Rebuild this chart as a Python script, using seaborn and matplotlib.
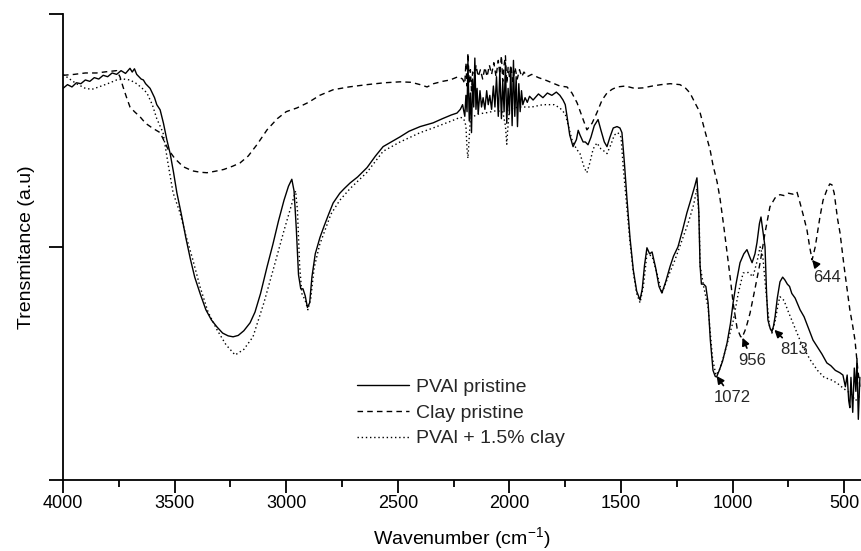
import numpy as np
import pandas as pd
import seaborn as sns
import matplotlib.pyplot as plt
from matplotlib.ticker import MultipleLocator

# values (wavenumber in cm-1, transmittance in a.u.)
pval_wn = [4000, 3980, 3960, 3940, 3920, 3900, 3880, 3860, 3840, 3820, 3800, 3780, 3760, 3740, 3720,
           3700, 3690, 3680, 3670, 3660, 3650, 3640, 3630, 3620, 3610, 3600, 3590, 3580, 3565, 3550,
           3535, 3520, 3505, 3490, 3470, 3450, 3430, 3410, 3386, 3360, 3335, 3310, 3285, 3260, 3238,
           3215, 3190, 3162, 3140, 3115, 3086, 3060, 3035, 3010, 2990, 2975, 2965, 2955, 2945, 2935,
           2925, 2915, 2905, 2895, 2885, 2870, 2849, 2830, 2810, 2790, 2760, 2740, 2714, 2680, 2638,
           2600, 2566, 2530, 2490, 2450, 2400, 2342, 2300, 2260, 2235, 2220,
           2210, 2200, 2195, 2190, 2186, 2180, 2175, 2170, 2165, 2160, 2155, 2150, 2145, 2140, 2132,
           2125, 2118, 2110, 2102, 2095, 2088, 2080, 2072, 2065, 2058, 2050, 2043, 2036, 2030, 2024,
           2018, 2012, 2006, 2000, 1994, 1988, 1982, 1976, 1970, 1964, 1958, 1952, 1946, 1940, 1930,
           1920, 1910, 1894, 1870, 1850, 1830, 1810, 1790, 1774, 1760, 1750, 1742, 1730, 1715, 1700,
           1692, 1684, 1670, 1660, 1648, 1635, 1620, 1603, 1590, 1575, 1563, 1550, 1535, 1518, 1505,
           1496, 1485, 1473, 1460, 1445, 1430, 1415, 1405, 1395, 1384, 1372, 1361, 1345, 1330, 1317,
           1300, 1281, 1265, 1245, 1225, 1205, 1185, 1170, 1160, 1152, 1146, 1140, 1130, 1120, 1110,
           1100, 1088, 1078, 1072, 1060, 1045, 1025, 1010, 998, 985, 967, 950, 936, 925, 913,
           900, 891, 880, 873, 865, 855, 848, 842, 832, 824, 817, 810, 800, 788, 776,
           766, 755, 745, 735, 720, 698, 680, 660, 640, 620, 600, 578, 560, 540, 520,
           506, 495, 487, 480, 475, 470, 462, 455, 448, 443, 437, 430]
pval_t = [84.0, 84.8, 84.3, 85.2, 85.0, 85.8, 85.5, 86.3, 86.0, 86.8, 86.5, 87.3, 87.0, 87.8, 87.2,
          88.3, 87.5, 88.2, 87.0, 86.5, 86.0, 85.8, 85.0, 84.5, 84.0, 83.0, 82.0, 80.5, 79.4, 76.5,
          73.0, 70.0, 66.0, 61.6, 57.0, 52.0, 47.5, 43.5, 40.0, 36.5, 34.3, 32.8, 31.5, 30.9, 30.7,
          31.0, 32.0, 33.7, 36.0, 40.0, 45.7, 50.5, 55.5, 60.0, 63.0, 64.5, 62.0, 54.0, 44.0, 41.0,
          41.0, 39.5, 37.0, 38.0, 43.5, 48.5, 52.0, 54.5, 57.0, 59.4, 61.5, 62.5, 63.7, 65.0, 67.0,
          69.5, 71.5, 72.5, 73.6, 74.8, 75.8, 76.6, 77.5, 78.3, 78.7, 79.5,
          80.5, 78.0, 82.5, 79.0, 90.0, 77.0, 83.0, 74.5, 86.0, 80.0, 90.5, 79.5, 84.0, 78.5, 83.5,
          80.0, 82.0, 79.5, 83.5, 80.5, 82.5, 79.5, 84.5, 80.0, 86.5, 78.0, 88.0, 77.5, 85.5, 79.0,
          89.5, 76.5, 84.0, 78.5, 88.5, 76.0, 90.0, 78.0, 86.5, 75.8, 85.0, 79.0, 83.5, 80.5, 82.0,
          81.0, 82.3, 81.5, 82.8, 82.0, 83.0, 82.5, 83.2, 82.5, 81.5, 80.5, 78.0, 74.0, 71.5, 73.0,
          75.0, 74.0, 72.5, 72.5, 71.9, 73.5, 76.0, 77.3, 75.0, 72.5, 71.5, 73.5, 75.5, 75.8, 75.5,
          74.5, 68.0, 60.0, 52.0, 45.0, 40.5, 38.6, 41.0, 46.0, 49.8, 48.5, 48.9, 45.5, 41.5, 40.1,
          42.5, 45.7, 48.0, 50.0, 53.5, 57.3, 60.5, 63.0, 64.8, 58.0, 46.0, 42.0, 42.0, 41.5, 38.0,
          30.0, 23.5, 22.2, 22.1, 23.5, 25.5, 29.4, 33.5, 38.0, 42.0, 46.6, 48.5, 49.4, 48.0, 46.6,
          48.5, 50.9, 55.0, 56.4, 53.5, 50.0, 40.0, 34.3, 32.5, 31.8, 33.0, 35.0, 39.0, 42.5, 43.5,
          42.9, 42.0, 41.5, 40.0, 39.0, 36.5, 35.0, 32.5, 30.0, 28.5, 27.0, 25.1, 24.5, 23.5, 23.0,
          22.5, 20.0, 22.5, 17.0, 15.5, 22.0, 14.5, 24.0, 19.0, 26.0, 13.0, 22.0]

clay_wn = [4000, 3950, 3900, 3850, 3800, 3760, 3745, 3731, 3715, 3700, 3680, 3655, 3630, 3600, 3565,
           3530, 3500, 3462, 3420, 3385, 3355, 3320, 3280, 3240, 3207, 3170, 3130, 3086, 3040, 3000,
           2952, 2900, 2850, 2790, 2720, 2638, 2560, 2490, 2440, 2400, 2369, 2340, 2300, 2266, 2230,
           2210, 2200, 2195, 2190, 2186, 2180, 2175, 2170, 2165, 2155, 2150, 2140, 2130, 2120, 2110,
           2100, 2090, 2080, 2070, 2060, 2050, 2043, 2036, 2030, 2024, 2018, 2012, 2006, 2000, 1994,
           1985, 1975, 1965, 1955, 1945, 1935, 1920, 1900, 1870, 1840, 1800, 1774, 1742, 1720, 1697,
           1675, 1653, 1630, 1608, 1585, 1563, 1540, 1518, 1480, 1440, 1402, 1360, 1320, 1280, 1236,
           1210, 1191, 1170, 1146, 1125, 1101, 1088, 1070, 1057, 1040, 1025, 1010, 998, 980, 965,
           958, 945, 935, 922, 900, 877, 855, 833, 810, 788, 770, 750, 730, 712, 698,
           682, 667, 655, 644, 630, 620, 609, 595, 578, 565, 555, 545, 530, 519, 500,
           475, 462, 452, 440, 430]
clay_t = [86.8, 87.0, 87.3, 87.3, 87.6, 87.8, 86.5, 84.3, 82.0, 80.0, 79.0, 77.9, 76.5, 75.5, 74.5,
          71.0, 69.0, 67.2, 66.3, 66.0, 65.9, 66.2, 66.6, 67.3, 68.0, 69.5, 72.0, 75.1, 77.5, 79.0,
          79.8, 81.0, 82.5, 83.7, 84.3, 84.8, 85.2, 85.4, 85.3, 84.8, 84.3, 85.0, 85.5, 85.8, 86.5,
          86.0, 85.0, 89.5, 84.5, 91.6, 85.0, 88.0, 83.5, 87.5, 86.0, 89.0, 86.5, 88.0, 86.0, 88.5,
          86.5, 89.0, 87.0, 89.5, 86.5, 90.0, 87.0, 91.0, 85.5, 89.0, 91.0, 85.0, 88.5, 86.5, 89.0,
          85.5, 88.5, 86.0, 88.0, 86.5, 87.5, 86.5, 87.0, 86.3, 85.8, 85.0, 84.5, 84.3, 83.0, 80.9,
          78.0, 75.1, 76.5, 78.8, 81.5, 83.0, 83.8, 84.3, 84.5, 84.0, 84.1, 84.5, 84.8, 85.0, 84.8,
          84.0, 83.0, 81.0, 78.8, 75.0, 70.8, 67.5, 64.0, 60.5, 54.5, 48.7, 43.0, 38.0, 32.5, 30.8,
          30.5, 32.0, 33.5, 35.8, 41.0, 46.6, 53.0, 58.6, 60.5, 61.2, 61.0, 61.5, 61.3, 61.8, 59.4,
          56.5, 53.6, 50.0, 47.2, 50.0, 53.0, 56.4, 60.0, 62.2, 63.5, 63.3, 61.5, 56.0, 53.0, 45.5,
          36.5, 33.0, 30.0, 24.0, 20.0]

blend_wn = [4000, 3970, 3940, 3900, 3870, 3840, 3800, 3760, 3730, 3700, 3670, 3640, 3624, 3600, 3580,
            3552, 3530, 3507, 3476, 3450, 3420, 3386, 3350, 3310, 3270, 3229, 3190, 3149, 3100, 3059,
            3010, 2970, 2958, 2950, 2940, 2930, 2915, 2903, 2890, 2875, 2850, 2800, 2760, 2714, 2638,
            2566, 2490, 2400, 2342, 2260, 2220, 2205, 2195, 2190, 2186, 2182, 2175, 2160, 2140, 2100,
            2060, 2030, 2018, 2012, 2008, 2000, 1960, 1900, 1850, 1800, 1774, 1750, 1720, 1700, 1684,
            1665, 1653, 1640, 1625, 1608, 1590, 1575, 1563, 1545, 1530, 1514, 1500, 1490, 1475, 1460,
            1445, 1430, 1415, 1400, 1384, 1361, 1340, 1317, 1290, 1260, 1230, 1200, 1175, 1160, 1150,
            1146, 1130, 1110, 1090, 1075, 1060, 1040, 1020, 998, 975, 953, 930, 909, 890, 877,
            865, 850, 835, 824, 810, 795, 788, 770, 750, 720, 690, 653, 620, 590, 560,
            533, 500, 470, 450, 430]
blend_t = [87.0, 86.0, 85.0, 84.0, 83.8, 84.3, 85.0, 85.8, 86.0, 85.8, 85.0, 83.8, 83.0, 80.5, 77.5,
           74.5, 68.0, 61.6, 57.3, 52.5, 47.5, 41.4, 36.0, 32.2, 29.0, 26.8, 28.0, 30.7, 38.0, 45.0,
           53.5, 60.0, 62.0, 58.0, 46.0, 40.0, 38.5, 36.5, 39.0, 45.5, 50.5, 57.0, 60.0, 62.5, 66.0,
           70.5, 72.5, 74.5, 75.5, 77.0, 77.8, 77.5, 76.0, 71.0, 69.0, 72.0, 77.5, 78.0, 78.5, 78.8,
           79.2, 79.0, 76.0, 72.0, 75.0, 79.5, 80.0, 80.0, 80.5, 80.5, 79.8, 78.5, 73.0, 71.0, 70.0,
           67.0, 65.9, 68.0, 71.0, 72.3, 71.0, 70.5, 70.0, 72.0, 74.0, 74.5, 73.5, 67.0, 59.0, 51.0,
           44.5, 40.0, 38.0, 41.5, 48.5, 48.0, 44.5, 40.0, 43.5, 47.0, 51.0, 55.0, 59.0, 62.5, 56.0,
           46.0, 41.5, 37.0, 26.0, 22.5, 23.5, 26.5, 30.0, 34.0, 40.0, 44.4, 44.5, 43.6, 47.0, 50.0,
           48.0, 40.0, 33.0, 31.5, 34.0, 38.0, 39.3, 38.5, 36.0, 32.5, 29.0, 25.8, 23.5, 22.0, 21.5,
           20.8, 19.5, 18.5, 17.0, 18.0]

series_names = ['PVAl pristine', 'Clay pristine', 'PVAl + 1.5% clay']
peak_wn = [1072, 956, 813, 644]
peak_t = [22.3, 30.5, 32.2, 47.2]
label_wn = [1003, 913, 725, 577]
label_t = [19.3, 27.3, 29.6, 45.0]

sns.set_theme(style='ticks')
plt.rcParams['font.family'] = ['Liberation Sans', 'DejaVu Sans']
plt.rcParams['mathtext.fontset'] = 'custom'
plt.rcParams['mathtext.rm'] = 'Liberation Sans'
plt.rcParams['mathtext.default'] = 'regular'

fig, ax = plt.subplots(figsize=(8.61, 5.51), dpi=100)
fig.subplots_adjust(left=0.0732, right=1.0, bottom=0.129, top=0.975)

styles = ['-', (0, (4, 3)), (0, (1, 2))]
for name, wn, t, ls in zip(series_names, [pval_wn, clay_wn, blend_wn],
                           [pval_t, clay_t, blend_t], styles):
    df = pd.DataFrame({'wn': wn, 't': t})
    sns.lineplot(data=df, x='wn', y='t', ax=ax, color='black', lw=1.0,
                 linestyle=ls, label=name, estimator=None, sort=False)

# peak markers
for pw, pt, lw_, lt in zip(peak_wn, peak_t, label_wn, label_t):
    ax.annotate(str(pw), xy=(pw, pt), xytext=(lw_, lt), fontsize=12,
                ha='center', va='top',
                arrowprops=dict(arrowstyle='-|>', color='black', lw=1.2,
                                mutation_scale=11, shrinkA=1, shrinkB=0))

ax.set_xlim(4000, 425)
ax.set_ylim(0, 100)
ax.xaxis.set_major_locator(MultipleLocator(500))
ax.xaxis.set_minor_locator(MultipleLocator(250))
ax.set_yticks([0, 50, 100])
ax.set_yticklabels([])

ax.tick_params(axis='both', which='major', direction='out', length=9, width=1.3,
               color='black', labelsize=13, labelcolor='black', pad=1.5)
ax.tick_params(axis='x', which='minor', direction='out', length=5, width=1.3, color='black')
ax.tick_params(axis='y', which='major', length=10)

sns.despine(ax=ax)
for side in ['left', 'bottom']:
    ax.spines[side].set_linewidth(1.3)
    ax.spines[side].set_color('black')

ax.set_xlabel(r'Wavenumber (cm$^{-1}$)', fontsize=14, labelpad=10, color='black')
ax.set_ylabel('Trensmitance (a.u)', fontsize=14, labelpad=9, color='black')

ax.legend(loc='upper left', bbox_to_anchor=(0.368, 0.218), frameon=False,
          fontsize=14, handlelength=2.7, handletextpad=0.35, labelspacing=0.42,
          borderpad=0, borderaxespad=0)

plt.savefig('out.png', dpi=100)
plt.close()
